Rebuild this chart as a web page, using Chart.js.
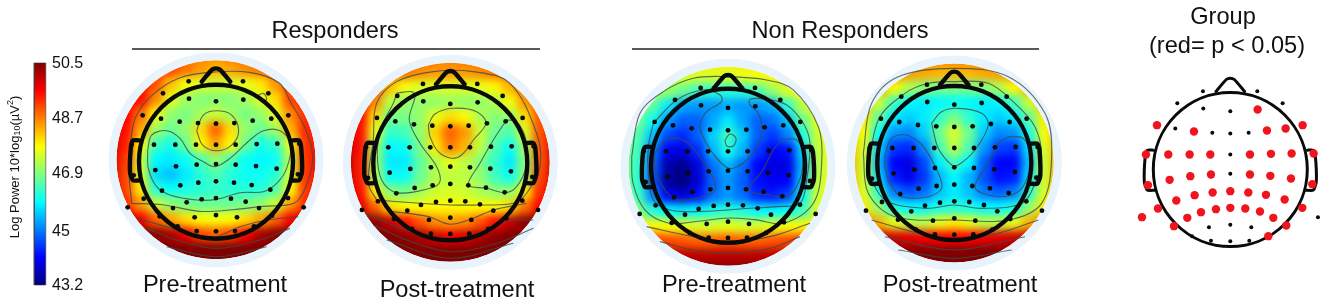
<!DOCTYPE html>
<html lang="en">

<head>
    <meta charset="UTF-8">
    <title>Log power scalp maps</title>
    <script src="https://cdnjs.cloudflare.com/ajax/libs/Chart.js/4.4.1/chart.umd.min.js"></script>
    <style>
        body { margin: 0; background: #fff; }
        canvas { display: block; }
    </style>
</head>

<body>
    <canvas id="topoChart" width="1326" height="302"></canvas>

    <script>
        // Colour scale
        const barTicks = [50.5, 48.7, 46.9, 45, 43.2];
        const barEnds = [43.2, 50.5];
        const jetStops = [[0, '#00007f'], [0.125, '#0000ff'], [0.375, '#00ffff'], [0.625, '#ffff00'], [0.875, '#ff0000'], [1, '#7f0000']];

        // Electrodes, head radius = 231 units (measured on the 3x crops)
        const chanX = [-82, 81, -159, 157, -81, 0, 82, -220, 217, -165, -109, -54, 0, 55, 110, 166, -253, -186, -122, -60, 0, 59, 122, 184, 250, -182, -120, -58, 0, 59, 120, 182, -247, 246, -162, -107, -53, 0, 54, 107, 163, -217, 216, -88, -43, 0, 45, 89, -265, 263, -129, 129, -169, 168, -64, 0, 63, -115, 114, -58, 0, 57];
        const chanY = [-235, -235, -199, -199, -183, -175, -180, -133, -133, -123, -114, -110, -108, -110, -117, -123, -45, -45, -45, -45, -45, -45, -47, -48, -48, 31, 20, 15, 13, 15, 19, 27, 47, 44, 93, 77, 69, 65, 69, 76, 90, 117, 115, 128, 119, 115, 117, 126, 143, 143, 145, 145, 170, 168, 173, 166, 173, 200, 200, 214, 215, 214];
        const groupSig = [0, 0, 0, 0, 0, 0, 1, 1, 1, 0, 1, 0, 0, 0, 1, 1, 1, 1, 1, 1, 0, 1, 1, 1, 1, 1, 1, 1, 0, 1, 1, 1, 1, 1, 1, 1, 1, 1, 1, 1, 1, 1, 1, 1, 1, 1, 1, 1, 1, 0, 1, 1, 1, 1, 0, 0, 0, 0, 1, 0, 0, 0];

        // Log power on a 15 x 15 grid over each disc (dB)
        const respPre = [
            [49.0, 49.0, 49.0, 49.0, 48.9, 48.8, 48.7, 48.6, 48.7, 48.8, 48.9, 49.0, 49.0, 49.0, 49.0],
            [49.3, 49.3, 49.3, 49.3, 49.1, 48.8, 48.5, 48.3, 48.4, 48.6, 48.8, 49.0, 49.2, 49.2, 49.2],
            [49.5, 49.5, 49.5, 49.0, 48.2, 47.7, 47.5, 47.4, 47.4, 47.6, 47.9, 48.5, 49.2, 49.3, 49.3],
            [49.6, 49.6, 49.5, 48.6, 47.6, 47.1, 46.9, 46.9, 46.9, 47.1, 47.5, 48.0, 49.1, 49.4, 49.4],
            [49.7, 49.6, 48.8, 47.7, 47.0, 46.8, 47.1, 47.4, 47.1, 46.8, 47.0, 47.6, 48.6, 49.3, 49.5],
            [49.8, 49.5, 48.4, 47.1, 46.7, 47.0, 48.0, 48.9, 48.0, 47.0, 46.7, 47.1, 48.3, 49.3, 49.6],
            [50.0, 49.4, 47.8, 46.4, 46.1, 46.7, 47.8, 48.4, 47.8, 46.7, 46.1, 46.3, 47.6, 49.2, 49.7],
            [50.0, 49.2, 47.4, 45.9, 45.8, 46.0, 46.5, 47.0, 46.5, 46.0, 45.9, 46.0, 47.3, 49.2, 49.7],
            [50.0, 49.1, 47.5, 45.7, 45.5, 45.8, 46.2, 46.5, 46.2, 46.0, 46.0, 46.2, 47.4, 49.2, 49.7],
            [50.0, 49.1, 47.9, 46.2, 46.0, 46.1, 46.2, 46.3, 46.2, 46.2, 46.2, 46.5, 47.8, 49.2, 49.7],
            [50.0, 49.3, 48.5, 47.4, 47.0, 46.8, 46.7, 46.7, 46.7, 46.8, 47.0, 47.4, 48.5, 49.3, 49.7],
            [50.4, 50.0, 49.7, 48.9, 48.4, 48.0, 47.8, 47.7, 47.8, 48.0, 48.4, 48.9, 49.6, 50.0, 50.2],
            [50.5, 50.5, 50.5, 50.4, 50.2, 49.7, 49.1, 48.9, 49.1, 49.6, 50.2, 50.4, 50.5, 50.5, 50.5],
            [50.5, 50.5, 50.5, 50.5, 50.5, 50.5, 50.5, 50.5, 50.5, 50.5, 50.5, 50.5, 50.5, 50.5, 50.5],
            [50.5, 50.5, 50.5, 50.5, 50.5, 50.5, 50.5, 50.5, 50.5, 50.5, 50.5, 50.5, 50.5, 50.5, 50.5]
        ];
        const respPost = [
            [49.0, 49.0, 49.0, 49.0, 48.9, 48.8, 48.8, 48.7, 48.8, 48.8, 48.9, 49.0, 49.0, 49.0, 49.0],
            [49.4, 49.4, 49.3, 49.1, 48.8, 48.6, 48.5, 48.5, 48.5, 48.6, 48.8, 49.0, 49.2, 49.3, 49.3],
            [49.7, 49.6, 49.2, 48.2, 47.7, 47.5, 47.5, 47.5, 47.5, 47.6, 47.8, 48.3, 48.9, 49.2, 49.3],
            [49.9, 49.7, 48.6, 47.3, 47.0, 47.0, 47.0, 47.1, 47.0, 47.0, 47.2, 47.7, 48.5, 49.1, 49.4],
            [50.0, 49.6, 48.0, 46.8, 46.8, 47.0, 47.6, 48.0, 47.8, 47.2, 46.9, 47.0, 48.0, 49.0, 49.5],
            [50.1, 49.5, 47.6, 46.3, 46.4, 47.0, 48.1, 48.9, 48.5, 47.4, 46.7, 46.5, 47.5, 49.0, 49.6],
            [50.2, 49.5, 47.2, 45.9, 46.0, 46.8, 47.9, 48.7, 48.3, 47.3, 46.5, 46.0, 47.1, 49.0, 49.8],
            [50.2, 49.4, 47.1, 45.8, 45.8, 46.6, 47.2, 47.6, 47.3, 46.9, 46.3, 45.8, 46.9, 49.0, 49.9],
            [50.2, 49.4, 47.2, 46.0, 46.0, 46.7, 47.2, 47.3, 47.3, 47.0, 46.4, 46.0, 47.0, 49.1, 49.9],
            [50.2, 49.5, 47.9, 46.9, 46.8, 47.1, 47.4, 47.5, 47.4, 47.2, 47.0, 47.0, 47.9, 49.3, 49.9],
            [50.2, 49.8, 48.9, 48.0, 47.8, 47.8, 47.8, 47.8, 47.8, 47.8, 47.8, 48.0, 48.8, 49.6, 50.0],
            [50.5, 50.5, 50.4, 50.0, 49.5, 49.0, 48.6, 48.5, 48.6, 49.0, 49.5, 50.0, 50.4, 50.5, 50.5],
            [50.5, 50.5, 50.5, 50.5, 50.4, 50.2, 49.9, 49.7, 49.9, 50.2, 50.4, 50.5, 50.5, 50.5, 50.5],
            [50.5, 50.5, 50.5, 50.5, 50.5, 50.5, 50.5, 50.5, 50.5, 50.5, 50.5, 50.5, 50.5, 50.5, 50.5],
            [50.5, 50.5, 50.5, 50.5, 50.5, 50.5, 50.5, 50.5, 50.5, 50.5, 50.5, 50.5, 50.5, 50.5, 50.5]
        ];
        const nonRespPre = [
            [47.9, 47.9, 47.9, 47.9, 47.9, 47.9, 47.9, 47.9, 47.9, 47.9, 47.9, 47.9, 47.9, 47.9, 47.9],
            [47.7, 47.7, 47.7, 47.6, 47.5, 47.5, 47.5, 47.5, 47.6, 47.7, 47.8, 48.0, 48.0, 48.0, 48.0],
            [47.4, 47.4, 47.3, 47.0, 46.7, 46.3, 46.2, 46.2, 46.2, 46.4, 47.0, 47.5, 47.8, 47.9, 47.9],
            [47.2, 47.1, 46.6, 45.8, 45.3, 45.2, 45.2, 45.3, 45.2, 45.2, 45.4, 46.2, 47.3, 47.8, 47.9],
            [47.1, 46.8, 46.0, 45.2, 44.8, 44.8, 45.3, 45.8, 45.3, 44.8, 44.9, 45.5, 46.6, 47.6, 47.9],
            [47.0, 46.5, 45.5, 44.6, 44.4, 44.8, 45.6, 46.4, 45.6, 44.8, 44.5, 45.0, 46.1, 47.4, 47.8],
            [47.0, 46.4, 45.0, 44.0, 43.9, 44.4, 45.4, 46.1, 45.4, 44.5, 44.1, 44.2, 45.6, 47.3, 47.8],
            [47.0, 46.3, 44.8, 43.5, 43.3, 43.9, 44.9, 45.4, 44.9, 44.1, 43.9, 43.9, 45.4, 47.2, 47.8],
            [47.0, 46.3, 44.7, 43.4, 43.2, 43.8, 44.8, 45.2, 44.8, 44.2, 44.0, 44.1, 45.6, 47.3, 47.8],
            [47.0, 46.4, 45.1, 44.0, 43.8, 44.2, 44.9, 45.2, 44.9, 44.4, 44.3, 44.6, 46.0, 47.4, 47.8],
            [47.2, 46.9, 46.2, 45.9, 45.8, 45.9, 46.1, 46.2, 46.1, 45.9, 45.9, 46.0, 46.4, 47.5, 47.9],
            [48.0, 47.9, 47.8, 47.7, 47.6, 47.5, 47.5, 47.6, 47.5, 47.5, 47.6, 47.7, 47.8, 47.9, 48.0],
            [49.2, 49.2, 49.2, 49.1, 49.0, 48.9, 48.9, 49.0, 48.9, 48.9, 49.0, 49.1, 49.2, 49.2, 49.2],
            [50.2, 50.2, 50.2, 50.1, 50.1, 50.1, 50.1, 50.1, 50.1, 50.1, 50.1, 50.1, 50.2, 50.2, 50.2],
            [50.5, 50.5, 50.5, 50.5, 50.5, 50.5, 50.5, 50.5, 50.5, 50.5, 50.5, 50.5, 50.5, 50.5, 50.5]
        ];
        const nonRespPost = [
            [49.0, 49.0, 49.0, 48.9, 48.8, 48.8, 48.7, 48.7, 48.7, 48.8, 48.8, 48.9, 49.0, 49.0, 49.0],
            [48.8, 48.8, 48.8, 48.7, 48.5, 48.4, 48.3, 48.3, 48.3, 48.4, 48.5, 48.7, 48.8, 48.8, 48.8],
            [48.6, 48.6, 48.4, 47.8, 47.2, 46.9, 46.8, 46.8, 46.8, 46.9, 47.2, 47.8, 48.4, 48.6, 48.6],
            [48.5, 48.2, 47.4, 46.4, 45.9, 45.8, 45.9, 46.0, 45.9, 45.8, 45.9, 46.4, 47.4, 48.2, 48.5],
            [48.4, 47.9, 46.6, 45.8, 45.6, 45.8, 46.3, 46.8, 46.3, 45.8, 45.6, 45.8, 46.6, 47.9, 48.4],
            [48.4, 47.7, 46.0, 45.2, 45.1, 45.6, 46.7, 47.5, 46.7, 45.6, 45.1, 45.2, 46.1, 47.7, 48.4],
            [48.4, 47.5, 45.6, 44.5, 44.4, 45.1, 46.4, 47.3, 46.5, 45.2, 44.6, 44.5, 45.7, 47.5, 48.4],
            [48.4, 47.4, 45.4, 44.1, 43.9, 44.6, 45.8, 46.4, 45.9, 44.8, 44.1, 44.1, 45.5, 47.4, 48.4],
            [48.4, 47.4, 45.6, 44.3, 44.0, 44.5, 45.4, 45.9, 45.4, 44.7, 44.2, 44.3, 45.7, 47.4, 48.4],
            [48.4, 47.5, 46.2, 45.0, 44.7, 44.9, 45.5, 45.8, 45.5, 45.0, 44.8, 45.0, 46.2, 47.5, 48.4],
            [48.5, 47.9, 47.0, 46.1, 45.9, 45.9, 46.1, 46.2, 46.1, 45.9, 45.9, 46.1, 47.0, 47.9, 48.5],
            [49.1, 48.8, 48.3, 47.6, 47.3, 47.3, 47.6, 47.9, 47.6, 47.3, 47.3, 47.6, 48.3, 48.8, 49.1],
            [50.2, 50.1, 50.0, 49.9, 49.8, 49.7, 49.6, 49.6, 49.6, 49.7, 49.8, 49.9, 50.0, 50.1, 50.2],
            [50.5, 50.5, 50.5, 50.5, 50.5, 50.5, 50.5, 50.5, 50.5, 50.5, 50.5, 50.5, 50.5, 50.5, 50.5],
            [50.5, 50.5, 50.5, 50.5, 50.5, 50.5, 50.5, 50.5, 50.5, 50.5, 50.5, 50.5, 50.5, 50.5, 50.5]
        ];

        const respPreLines = [
            [[-58, -87], [-38, -134], [2, -147], [47, -134], [68, -87], [47, -44], [2, -27], [-40, -44], [-58, -87]],
            [[-205, -29], [-193, -74], [-148, -87], [-108, -64], [-78, -19], [-38, 6], [-3, 21], [42, -4], [102, -59], [142, -87], [192, -87], [224, -49], [212, 26], [182, 71], [142, 96], [72, 99], [2, 119], [-58, 121], [-138, 106], [-178, 81], [-203, 26], [-205, -29]],
            [[-253, 131], [-262, 26], [-255, -60], [-240, -130], [-190, -195], [-110, -245], [-20, -262], [100, -262], [190, -230], [225, -170], [265, -100], [290, -10], [270, 80], [235, 130], [140, 140], [50, 150], [-50, 155], [-160, 135], [-253, 131]],
            [[-238, 176], [-148, 201], [-58, 226], [0, 231], [72, 201], [152, 181], [247, 171]],
            [[-208, 206], [-118, 241], [2, 266], [132, 241], [222, 206]],
            [[-148, 261], [2, 291], [152, 261]],
            [[122, -190], [137, -177], [152, -181], [142, -199], [122, -190]]
        ];
        const respPostLines = [
            [[-66, -112], [-46, -145], [9, -162], [79, -152], [107, -117], [69, -67], [34, -22], [4, -12], [-36, -32], [-61, -77], [-66, -112]],
            [[-161, -207], [-116, -212], [-106, -197], [-123, -127], [-91, -57], [-41, 13], [-31, 58], [-61, 78], [-161, 91], [-206, 53], [-219, -27], [-206, -107], [-171, -177], [-161, -207]],
            [[169, -127], [199, -122], [227, -67], [227, 13], [199, 73], [164, 91], [109, 78], [54, 68], [89, 3], [129, -67], [169, -127]],
            [[-221, 113], [-246, 63], [-231, -67], [-221, -177], [-161, -242], [-51, -272], [69, -272], [179, -237], [259, -87], [269, 13], [229, 93], [189, 123], [89, 128], [-1, 128], [-91, 123], [-221, 113]],
            [[-171, 148], [-66, 163], [-1, 186], [69, 168], [129, 143], [229, 123]],
            [[-256, 153], [-161, 193], [-50, 225], [80, 222], [149, 178], [249, 173]],
            [[-231, 188], [-131, 233], [-1, 268], [139, 243], [249, 198]],
            [[-191, 233], [-1, 288], [189, 243]]
        ];
        const nonRespPreLines = [
            [[-9, -79], [6, -97], [24, -84], [16, -61], [-4, -61], [-9, -79]],
            [[-224, -129], [-154, -199], [-74, -229], [-24, -214], [-19, -194], [-64, -164], [-84, -119], [-59, -59], [-14, -4], [16, 6], [66, -29], [101, -99], [91, -159], [66, -184], [66, -201], [116, -201], [176, -184], [226, -129], [246, -69], [236, 41], [216, 111], [146, 121], [66, 126], [0, 131], [-94, 136], [-174, 131], [-224, 101], [-239, 21], [-239, -59], [-224, -129]],
            [[-219, -39], [-189, -79], [-134, -79], [-84, -29], [-44, 36], [-39, 71], [-74, 91], [-154, 101], [-189, 71], [-219, 11], [-219, -39]],
            [[161, -81], [206, -79], [226, -29], [211, 51], [176, 91], [126, 86], [61, 71], [101, 16], [136, -49], [161, -81]],
            [[-289, -29], [-264, -159], [-194, -224], [-104, -264], [-4, -269], [116, -259], [196, -229], [271, -119], [281, -9], [256, 111], [166, 171], [80, 160], [0, 155], [-90, 165], [-180, 170], [-250, 130], [-285, 50], [-289, -29]],
            [[-244, 181], [-104, 211], [0, 226], [126, 211], [246, 171]],
            [[-204, 226], [-104, 251], [0, 261], [126, 246], [216, 211]]
        ];
        const nonRespPostLines = [
            [[-68, -119], [-38, -154], [12, -164], [82, -149], [102, -114], [62, -39], [12, 6], [-8, 6], [-48, -44], [-68, -119]],
            [[-208, -24], [-188, -74], [-143, -84], [-93, -49], [-48, 31], [-38, 76], [-78, 101], [-158, 101], [-193, 61], [-208, 11], [-208, -24]],
            [[162, -79], [207, -74], [227, -19], [212, 61], [172, 96], [102, 96], [62, 71], [102, 1], [132, -59], [162, -79]],
            [[-258, 31], [-228, -129], [-148, -209], [-78, -239], [-8, -244], [102, -239], [182, -179], [242, -109], [262, -19], [242, 61], [202, 121], [82, 136], [0, 126], [-88, 136], [-208, 111], [-258, 31]],
            [[-273, -29], [-248, -179], [-168, -259], [0, -284], [162, -259], [272, -149], [292, -19], [262, 121], [162, 171], [0, 171], [-178, 161], [-258, 91], [-273, -29]],
            [[-248, 171], [-108, 211], [0, 231], [132, 211], [252, 171]],
            [[-208, 221], [0, 261], [212, 221]],
            [[-168, 261], [0, 286], [172, 261]]
        ];

        // Head outline
        const noseLine = [[-43, -234], [-12, -270], [0, -274], [12, -270], [43, -234]];
        const earLine = [[-231, -58], [-249, -58], [-255, -42], [-258, 37], [-249, 62], [-226, 62]];

        // Text
        const panelTitles = [['Responders', 335, 31], ['Non Responders', 840, 31]];
        const panelLabels = [['Pre-treatment', 215, 285], ['Post-treatment', 457, 290], ['Pre-treatment', 734, 285], ['Post-treatment', 960, 285]];
        const groupLabels = [['Group', 1223, 17], ['(red= p < 0.05)', 1227, 46]];

        // Placement in the window
        const maps = [
            { grid: respPre, lines: respPreLines, cx: 216, cy: 159.7, headDy: 2 },
            { grid: respPost, lines: respPostLines, cx: 450.3, cy: 162.3, headDy: 1 },
            { grid: nonRespPre, lines: nonRespPreLines, cx: 728, cy: 166.3, headDy: -0.5 },
            { grid: nonRespPost, lines: nonRespPostLines, cx: 954.3, cy: 163, headDy: 0 }
        ];
        const groupCx = 1230.3, groupCy = 169.5;
        const UNIT = 1 / 3;
        const HEAD_R = 77, DISC_R = 99.5, CELL = 15;
        const BAR_BOTTOM = 285, BAR_TOP = 63;
        const BLUR = 4.5, BOX = 112;

        function hexRgb(h) {
            return [1, 3, 5].map(i => parseInt(h.slice(i, i + 2), 16));
        }

        function jetColor(v) {
            const f = Math.min(1, Math.max(0, (v - barEnds[0]) / (barEnds[1] - barEnds[0])));
            for (let i = 1; i < jetStops.length; i++) {
                if (f <= jetStops[i][0]) {
                    const t = (f - jetStops[i - 1][0]) / (jetStops[i][0] - jetStops[i - 1][0]);
                    const a = hexRgb(jetStops[i - 1][1]), b = hexRgb(jetStops[i][1]);
                    return `rgb(${a.map((c, k) => Math.round(c + (b[k] - c) * t)).join(',')})`;
                }
            }
            return jetStops[jetStops.length - 1][1];
        }

        function place(list, cx, cy) {
            return list.map(p => ({ x: cx + p[0] * UNIT, y: cy + p[1] * UNIT }));
        }

        const datasets = [];

        function addHead(cx, cy, headDy, width) {
            datasets.push({ data: [{ x: cx, y: cy + headDy }], pointRadius: HEAD_R, pointBorderWidth: width, pointBorderColor: '#0a0a0a', pointBackgroundColor: 'transparent', order: 2 });
            const lines = [noseLine, earLine, earLine.map(p => [-p[0], p[1]])];
            lines.forEach(l => datasets.push({
                data: place(l, cx, cy), showLine: true, tension: 0.2, pointRadius: 0,
                borderColor: '#0a0a0a', borderWidth: width, borderCapStyle: 'round', order: 2
            }));
        }

        maps.forEach(m => {
            // Heat cells, smoothed by the plugin below
            const cells = [], colours = [];
            m.grid.forEach((row, r) => row.forEach((v, c) => {
                cells.push({ x: m.cx + (c - 7) * CELL, y: m.cy + (r - 7) * CELL });
                colours.push(jetColor(v));
            }));
            datasets.push({ data: cells, heatMap: m, pointStyle: 'rect', pointRadius: CELL / Math.SQRT2 + 0.6, pointBorderWidth: 0, pointBackgroundColor: colours, order: 6 });

            // Pale ring round the disc
            datasets.push({ data: [{ x: m.cx, y: m.cy }], pointRadius: DISC_R + 4, pointBorderWidth: 8, pointBorderColor: '#e9f3fb', pointBackgroundColor: 'transparent', order: 5 });

            m.lines.forEach(l => datasets.push({
                data: place(l, m.cx, m.cy), showLine: true, tension: 0.35, pointRadius: 0,
                borderColor: 'rgba(60,75,75,0.8)', borderWidth: 1.1, order: 4
            }));

            addHead(m.cx, m.cy, m.headDy, 4.4);

            datasets.push({
                data: chanX.map((x, i) => ({ x: m.cx + x * UNIT, y: m.cy + chanY[i] * UNIT })),
                pointRadius: 2.4, pointBorderWidth: 0, pointBackgroundColor: '#0a0a0a', order: 1
            });
        });

        // Group map
        addHead(groupCx, groupCy, 0, 3);
        datasets.push({
            data: chanX.map((x, i) => ({ x: groupCx + x * UNIT, y: groupCy + chanY[i] * UNIT })),
            pointRadius: groupSig.map(s => s ? 4.2 : 2),
            pointBorderWidth: 0,
            pointBackgroundColor: groupSig.map(s => s ? '#f0141e' : '#0a0a0a'),
            order: 1
        });

        // Section rules
        datasets.push({ data: [{ x: 132, y: 49 }, { x: 540, y: 49 }], showLine: true, pointRadius: 0, borderColor: '#222', borderWidth: 1.4, order: 1 });
        datasets.push({ data: [{ x: 632, y: 49 }, { x: 1039, y: 49 }], showLine: true, pointRadius: 0, borderColor: '#222', borderWidth: 1.4, order: 1 });

        // Colour bar, on its own value scale
        const canvas = document.getElementById('topoChart');
        const barGradient = canvas.getContext('2d').createLinearGradient(0, BAR_BOTTOM, 0, BAR_TOP);
        jetStops.forEach(st => barGradient.addColorStop(st[0], st[1]));
        datasets.push({
            data: barEnds.map(v => ({ x: 40, y: v })), yAxisID: 'ybar', showLine: true, pointRadius: 0,
            borderWidth: 11.5, borderCapStyle: 'butt', order: 3, borderColor: barGradient
        });
        datasets.push({
            data: [[34.2, 43.2], [45.8, 43.2], [45.8, 50.5], [34.2, 50.5], [34.2, 43.2]].map(p => ({ x: p[0], y: p[1] })),
            yAxisID: 'ybar', showLine: true, pointRadius: 0, borderColor: 'rgba(50,50,50,0.7)', borderWidth: 0.8, order: 2
        });

        const heatSmooth = {
            id: 'heatSmooth',
            beforeDatasetDraw(chart, args) {
                const m = chart.data.datasets[args.index].heatMap;
                if (!m) return;
                const ctx = chart.ctx;
                ctx.save();
                ctx.beginPath();
                ctx.rect(Math.round(m.cx - BOX), Math.round(m.cy - BOX), 2 * BOX, 2 * BOX);
                ctx.clip();
            },
            afterDatasetDraw(chart, args) {
                const m = chart.data.datasets[args.index].heatMap;
                if (!m) return;
                const ctx = chart.ctx;
                const x = Math.round(m.cx - BOX), y = Math.round(m.cy - BOX);
                ctx.filter = `blur(${BLUR}px)`;
                ctx.drawImage(chart.canvas, x, y, 2 * BOX, 2 * BOX, x, y, 2 * BOX, 2 * BOX);
                ctx.filter = 'none';
                ctx.globalCompositeOperation = 'destination-in';
                ctx.beginPath();
                ctx.arc(m.cx, m.cy, DISC_R, 0, Math.PI * 2);
                ctx.fill();
                ctx.restore();
            }
        };

        const chartText = {
            id: 'chartText',
            afterDraw(chart) {
                const ctx = chart.ctx;
                ctx.save();
                ctx.fillStyle = '#111';
                ctx.textAlign = 'center';
                ctx.textBaseline = 'middle';
                ctx.font = '23.6px "Liberation Sans", Arial, sans-serif';
                panelTitles.concat(panelLabels, groupLabels).forEach(t => ctx.fillText(t[0], t[1], t[2]));

                ctx.font = '16px "Liberation Sans", Arial, sans-serif';
                ctx.textAlign = 'left';
                barTicks.forEach(v => ctx.fillText(v, 52, chart.scales.ybar.getPixelForValue(v) + 1));

                // Rotated axis title with sub and superscript
                const parts = [['Log Power 10*log', 13, 0], ['10', 9, 3], ['(\u00b5V', 13, 0], ['2', 9, -4], [')', 13, 0]];
                ctx.translate(15, 167);
                ctx.rotate(-Math.PI / 2);
                let total = 0;
                parts.forEach(p => { ctx.font = `${p[1]}px "Liberation Sans", Arial, sans-serif`; total += ctx.measureText(p[0]).width; });
                let pos = -total / 2;
                parts.forEach(p => {
                    ctx.font = `${p[1]}px "Liberation Sans", Arial, sans-serif`;
                    ctx.fillText(p[0], pos, p[2]);
                    pos += ctx.measureText(p[0]).width;
                });
                ctx.restore();
            }
        };

        new Chart(canvas, {
            type: 'scatter',
            data: { datasets },
            options: {
                responsive: false,
                animation: false,
                events: [],
                layout: { padding: 0, autoPadding: false },
                plugins: { legend: { display: false }, tooltip: { enabled: false } },
                scales: {
                    x: { type: 'linear', min: 0, max: 1326, display: false },
                    y: { type: 'linear', min: 0, max: 302, reverse: true, display: false },
                    // 43.2 sits at pixel 285 and 50.5 at pixel 63
                    ybar: { type: 'linear', min: 42.64, max: 52.57, display: false }
                }
            },
            plugins: [heatSmooth, chartText]
        });
    </script>
</body>

</html>
